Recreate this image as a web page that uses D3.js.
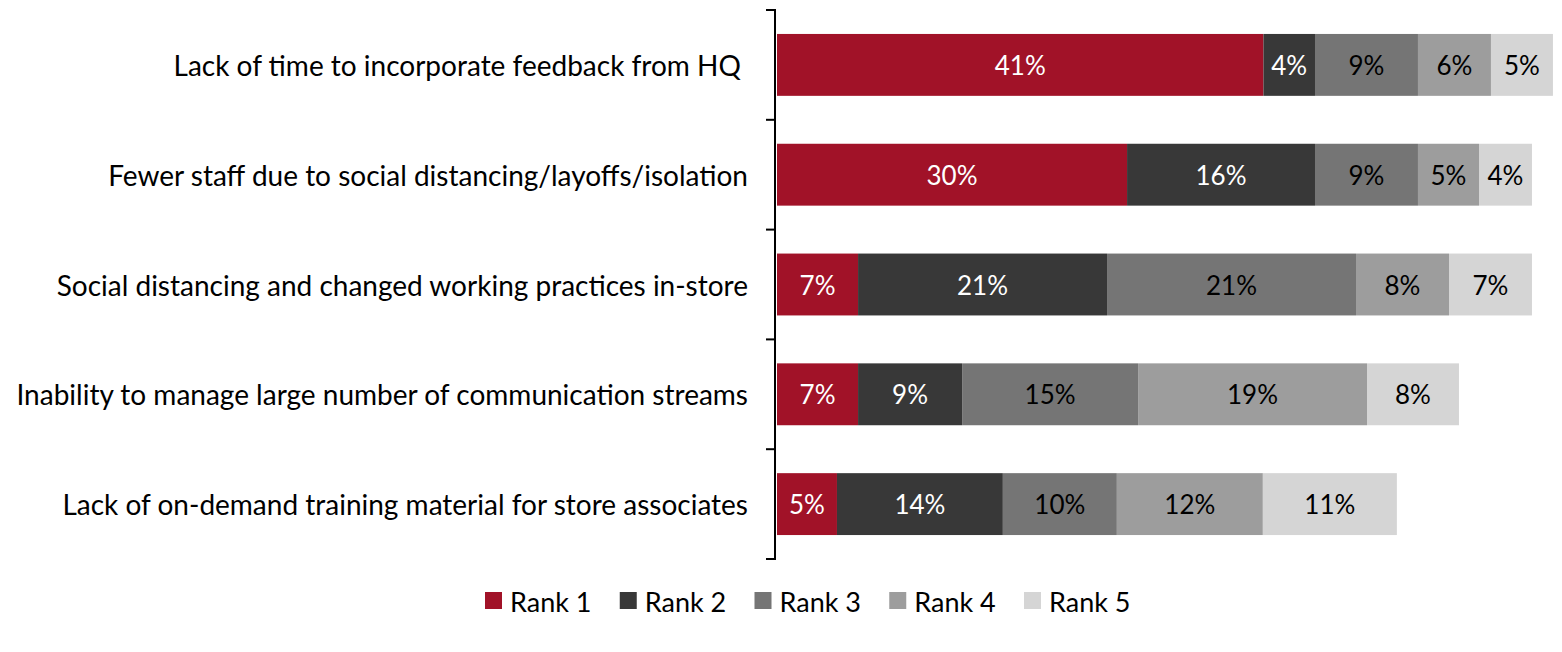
<!DOCTYPE html>
<html>
<head>
<meta charset="utf-8">
<script src="https://cdn.jsdelivr.net/npm/d3@7"></script>
<style>
  html, body { margin: 0; padding: 0; background: #fff; }
  svg { display: block; }
  text { font-family: Lato, "Open Sans", sans-serif; }
</style>
</head>
<body>
<svg id="chart" width="1562" height="652"></svg>
<script>
// ---- Data ----
const categories = [
  "Lack of time to incorporate feedback from HQ ",
  "Fewer staff due to social distancing/layoffs/isolation",
  "Social distancing and changed working practices in-store",
  "Inability to manage large number of communication streams",
  "Lack of on-demand training material for store associates"
];
const seriesNames = ["Rank 1", "Rank 2", "Rank 3", "Rank 4", "Rank 5"];
const rank1 = [41.05, 29.54, 6.84, 6.84, 5.06];
const rank2 = [4.35, 15.86, 21.01, 8.78, 14.0];
const rank3 = [8.69, 8.69, 21.01, 14.85, 9.62];
const rank4 = [6.16, 5.15, 7.85, 19.32, 12.32];
const rank5 = [5.23, 4.47, 7.0, 7.76, 11.31];
const colors = ["#A11228", "#383838", "#757575", "#9D9D9D", "#D5D5D5"];
const labelColors = ["#ffffff", "#ffffff", "#000000", "#000000", "#000000"];

// ---- Build table ----
const seriesValues = [rank1, rank2, rank3, rank4, rank5];
const table = categories.map((c, i) => {
  const row = { category: c };
  seriesNames.forEach((s, j) => { row[s] = seriesValues[j][i]; });
  return row;
});
const stacked = d3.stack().keys(seriesNames)(table);

const svg = d3.select("#chart");
const x = d3.scaleLinear().domain([0, 66]).range([777, 777 + 66 * 11.85]);
const y = d3.scaleBand().domain(categories).range([10, 559])
  .paddingInner(0.4364).paddingOuter(0.2182);

const color = d3.scaleOrdinal().domain(seriesNames).range(colors);
const labelColor = d3.scaleOrdinal().domain(seriesNames).range(labelColors);
const fmt = v => d3.format(".0f")(v) + "%";

// Bars
const layers = svg.append("g").selectAll("g").data(stacked).join("g")
  .attr("fill", d => color(d.key));
layers.selectAll("rect").data(d => d.map(p => ({ p, key: d.key }))).join("rect")
  .attr("x", d => x(d.p[0]))
  .attr("width", d => x(d.p[1]) - x(d.p[0]))
  .attr("y", d => y(d.p.data.category))
  .attr("height", y.bandwidth());

// Value labels
const lab = svg.append("g").selectAll("g").data(stacked).join("g");
lab.selectAll("text").data(d => d.map(p => ({ p, key: d.key }))).join("text")
  .attr("x", d => (x(d.p[0]) + x(d.p[1])) / 2)
  .attr("y", d => y(d.p.data.category) + y.bandwidth() / 2)
  .attr("text-anchor", "middle")
  .attr("dominant-baseline", "central")
  .attr("font-size", 26)
  .attr("fill", d => labelColor(d.key))
  .text(d => fmt(d.p[1] - d.p[0]));

// Axis (category) with ticks at band boundaries
const axisG = svg.append("g");
const yEdges = d3.scaleLinear().domain([0, categories.length]).range([10, 559]);
axisG.append("line")
  .attr("x1", 775).attr("x2", 775)
  .attr("y1", yEdges(0)).attr("y2", yEdges(categories.length))
  .attr("stroke", "#000").attr("stroke-width", 2);
axisG.selectAll("line.tick").data(d3.range(categories.length + 1)).join("line")
  .attr("class", "tick")
  .attr("x1", 766).attr("x2", 776)
  .attr("y1", d => yEdges(d)).attr("y2", d => yEdges(d))
  .attr("stroke", "#000").attr("stroke-width", 2);
axisG.selectAll("text").data(categories).join("text")
  .attr("x", 748)
  .attr("y", d => y(d) + y.bandwidth() / 2)
  .attr("text-anchor", "end")
  .attr("dominant-baseline", "central")
  .attr("font-size", 28)
  .attr("fill", "#000")
  .style("white-space", "pre")
  .text(d => d);

// Legend
const legendX = d3.scalePoint().domain(seriesNames).range([485, 1024]);
const lg = svg.append("g").selectAll("g").data(seriesNames).join("g")
  .attr("transform", d => `translate(${legendX(d)},592)`);
lg.append("rect").attr("width", 17).attr("height", 17).attr("fill", d => color(d));
lg.append("text")
  .attr("x", 25).attr("y", 9)
  .attr("dominant-baseline", "central")
  .attr("font-size", 27)
  .attr("fill", "#000")
  .text(d => d);
</script>
</body>
</html>
